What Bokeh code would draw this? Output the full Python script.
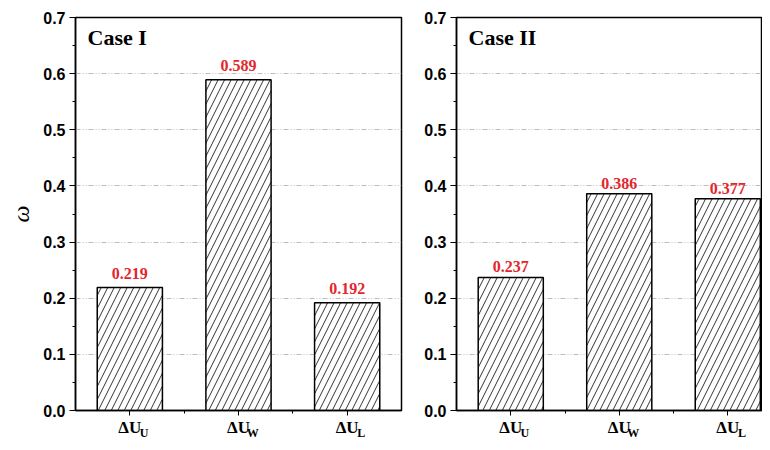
from bokeh.plotting import figure
from bokeh.layouts import row
from bokeh.models import (Range1d, FixedTicker, Label, ColumnDataSource,
                          LinearAxis, PrintfTickFormatter)
from bokeh.embed import file_html
from bokeh.resources import INLINE
from bokeh.core.properties import value

# ---- data ----
label_main = ["ΔU", "ΔU", "ΔU"]
label_sub = ["U", "W", "L"]
case1_vals = [0.219, 0.589, 0.192]
case2_vals = [0.237, 0.386, 0.377]
value_text1 = ["0.219", "0.589", "0.192"]
value_text2 = ["0.237", "0.386", "0.377"]
y_ticks = [0.0, 0.1, 0.2, 0.3, 0.4, 0.5, 0.6, 0.7]
panel_titles = ["Case I", "Case II"]

SERIF = "Liberation Serif"
SANS = "Liberation Sans"
RED = "#e3262d"
SUB_SHIFT = 0.13


def make_panel(vals, vtexts, title, width, left, right, x_end, ylabel, voff):
    idx = list(range(len(vals)))
    p = figure(width=width, height=442, output_backend="svg", toolbar_location=None,
               x_range=Range1d(-0.5, x_end), y_range=Range1d(0, 0.7),
               min_border_left=left, min_border_right=right,
               min_border_top=17, min_border_bottom=30)
    p.background_fill_color = "white"
    p.border_fill_color = "white"
    p.outline_line_color = "black"
    p.outline_line_width = 1.5
    p.outline_line_alpha = 1.0

    src = ColumnDataSource(dict(x=idx, top=vals, txt=vtexts))
    p.vbar(x="x", top="top", width=0.6, source=src, fill_color="white",
           line_color="black", line_width=1.5,
           hatch_pattern="/", hatch_scale=13, hatch_weight=1, hatch_color="#333333")
    p.text(x="x", y="top", text="txt", source=src, text_align="center",
           text_baseline="bottom", y_offset=voff, text_color=RED,
           text_font=value(SERIF), text_font_style="bold", text_font_size="16px")

    # y axis
    ya = p.yaxis[0]
    ya.ticker = FixedTicker(ticks=y_ticks,
                            minor_ticks=[t + 0.05 for t in y_ticks[:-1]])
    ya.formatter = PrintfTickFormatter(format="%.1f")
    ya.major_label_text_font = SANS
    ya.major_label_text_font_style = "bold"
    ya.major_label_text_font_size = "16px"
    ya.major_label_text_color = "black"
    ya.major_label_standoff = 4
    ya.major_tick_in = 0
    ya.major_tick_out = 6
    ya.minor_tick_in = 0
    ya.minor_tick_out = 3
    ya.axis_line_width = 1.5
    ya.major_tick_line_width = 1.2
    if ylabel:
        ya.axis_label = ylabel
        ya.axis_label_text_font = SERIF
        ya.axis_label_text_font_style = "italic"
        ya.axis_label_text_font_size = "24px"
        ya.axis_label_text_color = "black"
        ya.axis_label_standoff = 6

    # x axis (main symbol part of the category labels)
    xa = p.xaxis[0]
    xa.ticker = FixedTicker(ticks=idx, minor_ticks=[0.5, 1.5])
    xa.major_label_overrides = {i: label_main[i] for i in idx}
    xa.major_label_text_font = SERIF
    xa.major_label_text_font_style = "bold"
    xa.major_label_text_font_size = "17px"
    xa.major_label_text_color = "black"
    xa.major_tick_in = 0
    xa.major_tick_out = 5
    xa.minor_tick_in = 0
    xa.minor_tick_out = 3
    xa.axis_line_width = 1.5
    xa.major_label_standoff = 2

    # second axis carrying the subscripts
    p.extra_x_ranges = {"sub": Range1d(-0.5 - SUB_SHIFT, x_end - SUB_SHIFT)}
    sa = LinearAxis(x_range_name="sub", ticker=FixedTicker(ticks=idx, minor_ticks=[]),
                    major_label_overrides={i: label_sub[i] for i in idx},
                    major_label_text_font=SERIF, major_label_text_font_style="bold",
                    major_label_text_font_size="12px", major_label_text_color="black",
                    axis_line_color=None, major_tick_line_color=None,
                    minor_tick_line_color=None, major_tick_in=0, major_tick_out=0,
                    minor_tick_in=0, minor_tick_out=0, major_label_standoff=-14)
    p.add_layout(sa, "below")

    p.xgrid.grid_line_color = None
    p.ygrid.grid_line_color = "#bdbdbd"
    p.ygrid.grid_line_dash = "5 2 1 2 1 2"
    p.ygrid.grid_line_width = 1

    p.add_layout(Label(x=-0.5, y=0.7, text=title, text_align="left",
                       text_baseline="top", x_offset=12, y_offset=-7,
                       text_font=SERIF, text_font_style="bold",
                       text_font_size="22px", text_color="black"))
    return p


p1 = make_panel(case1_vals, value_text1, panel_titles[0], 404, 75, 3, 2.5, "ω", -9)
p2 = make_panel(case2_vals, value_text2, panel_titles[1], 358, 52, 0, 2.32, None, -5)

layout = row(p1, p2)
open("out.html", "w").write(file_html(layout, INLINE))
